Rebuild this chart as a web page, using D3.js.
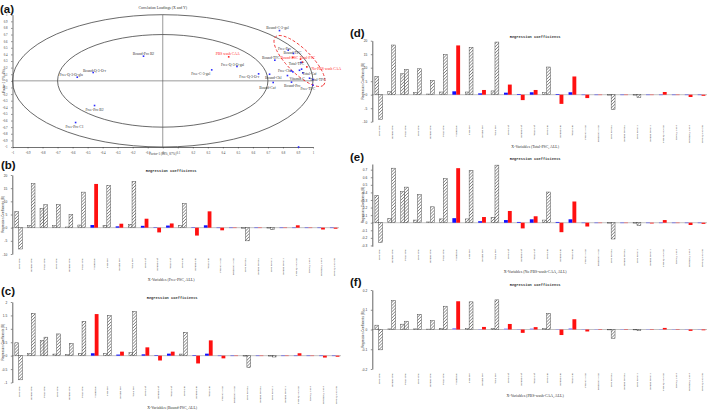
<!DOCTYPE html>
<html><head><meta charset="utf-8">
<script src="https://cdn.jsdelivr.net/npm/d3@7"></script>
<style>body{margin:0;background:#fff}</style>
</head><body>
<svg id="c" width="709" height="414"></svg>
<script>
// ---------------- DATA ----------------
const categories = ["Free TPC","Bound TPC","Total TPC","Free TFC","Bound TFC","Total TFC","Vitamin C","Free Pro","Bound Pro","Total Pro","Free Caf","Bound Caf","Total Caf","Free Chl","Bound Chl","Total Chl","Free C-3-gal","Bound C-3-gal","Free Pro B2","Bound Pro B2","Free Pro C1","Bound Pro C1","Free Q-3-O-gal","Free Q-3-O-r","Bound Q-3-O-r","Free Q-3-O-glu"];
// 1 = significant (blue / red bars), 0 = not significant (hatched bars)
const significant = [0,0,0,0,0,0,1,0,1,0,1,1,1,0,1,1,1,1,0,1,0,1,1,1,1,1];

const freePscLeft  = [6.2,0.9,7.3,0.8,0.25,1.0,1.0,0.9,0.5,1.3,0.7,0.15,0.8,0.8,0.15,0.9,-0.1,0,-0.2,0,-0.1,0,0,0,0,0];
const freePscRight = [-8.1,16.7,8.7,8.7,4.9,13.5,16.6,16.1,1.5,17.5,3.4,-1.8,1.6,9.2,-3.0,6.2,-1.0,-0.05,-5.0,-0.1,-0.8,-0.1,0.9,-0.05,-0.7,-0.4];

const boundPscLeft  = [0.48,0.075,0.56,0.06,0.04,0.075,0.09,0.075,0.04,0.11,0.05,0.02,0.075,0.06,0.02,0.075,0,0,-0.01,0,-0.01,0,0,0,0,0];
const boundPscRight = [-0.9,1.58,0.69,0.81,0.46,1.28,1.55,1.5,0.15,1.65,0.31,-0.18,0.15,0.87,-0.29,0.57,-0.1,-0.01,-0.45,-0.01,-0.05,-0.01,0.09,-0.005,-0.07,-0.04];

const totalPscLeft  = [6.75,1.1,7.75,0.75,0.25,1.0,1.25,1.0,0.5,1.4,0.75,0.25,0.9,0.75,0.25,0.9,0,0,-0.1,0,-0.1,0,0,0,0,0];
const totalPscRight = [-9.1,18.4,9.4,9.6,5.25,14.9,18.25,17.5,1.75,19.5,3.75,-2.0,1.75,10.25,-3.4,6.75,-1.25,-0.05,-5.5,-0.1,-1.0,-0.1,1.0,-0.05,-0.85,-0.4];

const noPbsLeft  = [0.36,0.057,0.41,0.035,0.01,0.05,0.06,0.05,0.02,0.07,0.035,0.01,0.045,0.035,0.01,0.045,0,0,-0.005,0,-0.005,0,0,0,0,0];
const noPbsRight = [-0.26,0.72,0.47,0.37,0.21,0.58,0.72,0.69,0.075,0.76,0.155,-0.075,0.085,0.405,-0.125,0.28,-0.05,-0.003,-0.215,-0.005,-0.04,-0.01,0.035,-0.005,-0.03,-0.015];

const pbsLeft  = [0.022,0.003,0.027,0.003,0.002,0.005,0.007,0.005,0.002,0.005,0.005,0.001,0.005,0.004,0.001,0.006,0,0,0,0,0,0,0,0,0,0];
const pbsRight = [-0.103,0.147,0.042,0.077,0.045,0.118,0.143,0.14,0.013,0.15,0.028,-0.017,0.012,0.082,-0.028,0.052,-0.01,-0.001,-0.045,-0.001,-0.006,-0.002,0.008,-0.001,-0.007,-0.004];

// Correlation loadings (panel a)
const loadingNames = ["Bound-Pro B2","Bound-Q-3-O-r","Free-Q-3-O-glu","Free-Pro B2","Free-Pro C1","Free-C-3-gal","PBS wash CAA","Free-Q-3-O-gal","Free-Q-3-O-r","Bound-Chl","Bound-Caf","Bound-C-3-gal","Bound-TFC","Free-Pro","Bound-TPC","Bound-PSC","Total-PSC","Free-PSC","Total-TFC","No-PBS wash CAA","Free-Chl","Total-Caf","Vitamin C","Total-TPC","Bound-Pro","Free-TPC","Free-Caf","Total-Chl","Total-Pro","Free-TFC","Bound-Pro C1"];
const loadingX = [-0.128,-0.463,-0.569,-0.454,-0.58,0.326,0.439,0.494,0.638,0.711,0.735,0.777,0.746,0.835,0.870,0.866,0.917,0.930,0.92,0.959,0.855,0.932,0.83,0.999,0.857,0.999,0.866,0.91,0.977,0.924,0.904];
const loadingY = [0.373,0.126,0.055,-0.373,-0.63,0.166,0.363,0.217,0.106,0.10,-0.025,0.76,0.312,0.464,0.414,0.353,0.328,0.283,0.278,0.211,0.151,0.121,0.08,0.02,-0.02,-0.065,0.136,0.16,0.04,0.177,-1.0];
const loadingIsY = [0,0,0,0,0,0,1,0,0,0,0,0,0,0,0,1,1,1,0,1,0,0,0,0,0,0,0,0,0,0,0];
const axisTicksA = d3.range(-10, 11).map(d => d / 10);

// ---------------- LAYOUT ----------------
const svg = d3.select("#c");
const defs = svg.append("defs");
const pat = defs.append("pattern").attr("id","hatch").attr("patternUnits","userSpaceOnUse")
  .attr("width",2.2).attr("height",2.2).attr("patternTransform","rotate(45)");
pat.append("rect").attr("width",2.2).attr("height",2.2).attr("fill","#fff");
pat.append("line").attr("x1",0).attr("y1",0).attr("x2",0).attr("y2",2.2).attr("stroke","#555").attr("stroke-width",1.1);

const serif = "'Liberation Serif', 'DejaVu Serif', serif";
const fmt = d => String(+d.toFixed(2));

function tag(t, x, y){
  svg.append("text").attr("x",x).attr("y",y).text(t)
    .attr("font-family","'Liberation Sans', Arial, sans-serif").attr("font-weight","bold").attr("font-size",11.5).attr("fill","#111");
}

// ---------- panel (a) ----------
(function(){
  const x = d3.scaleLinear().domain([-1,1]).range([12.5,313]);
  const y = d3.scaleLinear().domain([-1,1]).range([147,14.7]);
  const g = svg.append("g");
  tag("(a)", 0, 12.5);
  g.append("text").attr("x",x(0)).attr("y",8.5).attr("text-anchor","middle").attr("font-family",serif)
    .attr("font-size",3.8).attr("fill","#333").text("Correlation Loadings (X and Y)");
  const ax = g.append("g").attr("transform",`translate(0,${y(-1)})`)
    .call(d3.axisBottom(x).tickValues(axisTicksA).tickFormat(fmt).tickSize(1.5).tickSizeOuter(0));
  const ay = g.append("g").attr("transform",`translate(${x(-1)},0)`)
    .call(d3.axisLeft(y).tickValues(axisTicksA).tickFormat(fmt).tickSize(1.5).tickSizeOuter(0));
  [ax, ay].forEach(a => {
    a.selectAll("path").attr("stroke","#333").attr("stroke-width",0.7);
    a.selectAll("line").attr("stroke","#333").attr("stroke-width",0.5);
    a.selectAll("text").attr("font-size",3).attr("font-family",serif).attr("fill","#333");
  });
  ax.selectAll("text").attr("dy","0.9em");
  ay.selectAll("text").attr("dx","-0.2em");
  g.append("text").attr("x",x(0)).attr("y",154.5).attr("text-anchor","middle").attr("font-family",serif)
    .attr("font-size",3.2).attr("fill","#333").text("Factor-1 (88%, 87%)");
  g.append("text").attr("transform",`translate(4.5,${y(0)}) rotate(-90)`).attr("text-anchor","middle")
    .attr("font-family",serif).attr("font-size",3.2).attr("fill","#333").text("Factor-2 (1%, 6%)");
  g.append("line").attr("x1",x(0)).attr("x2",x(0)).attr("y1",y(1)).attr("y2",y(-1)).attr("stroke","#555").attr("stroke-width",0.6);
  g.append("line").attr("x1",x(-1)).attr("x2",x(1)).attr("y1",y(0)).attr("y2",y(0)).attr("stroke","#555").attr("stroke-width",0.6);
  [1, 0.7].forEach(r => {
    g.append("ellipse").attr("cx",x(0)).attr("cy",y(0))
      .attr("rx",x(r)-x(0)).attr("ry",y(0)-y(r))
      .attr("fill","none").attr("stroke","#444").attr("stroke-width",0.8);
  });
  const ecx = x(0.91), ecy = y(0.30);
  g.append("ellipse").attr("transform",`translate(${ecx},${ecy}) rotate(45)`)
    .attr("rx",34).attr("ry",12).attr("fill","none").attr("stroke","#f03030")
    .attr("stroke-width",0.9).attr("stroke-dasharray","3,2");
  const nudge = {
    "Bound-Pro B2":[0,-2.7],"Bound-Q-3-O-r":[1.3,-2],"Free-Q-3-O-glu":[-6,-2.3],"Free-Pro B2":[0,3.7],
    "Free-Pro C1":[-1,4.4],"Free-C-3-gal":[-11,3.6],"PBS wash CAA":[-1,-3.4],"Free-Q-3-O-gal":[-4.4,-1.3],
    "Free-Q-3-O-r":[-9.3,3.3],"Bound-Chl":[3.7,3],"Bound-Caf":[-5.7,4.7],"Bound-C-3-gal":[-2,-3.3],
    "Bound-TFC":[-4,-2.3],"Free-Pro":[-3.7,-1.7],"Bound-TPC":[-1,-1.2],"Bound-PSC":[-3.5,0.6],
    "Total-PSC":[7,-1.6],"Total-TFC":[-4.5,1.3],"No-PBS wash CAA":[19.5,2],
    "Free-Chl":[-6.7,-0.4],"Total-Caf":[6.7,0.6],"Vitamin C":[9.7,3.4],"Total-TPC":[5,-0.3],
    "Bound-Pro":[0.7,3.7],"Free-TPC":[-5,3.7]
  };
  const pts = loadingNames.map((n,i) => ({n, x:loadingX[i], y:loadingY[i], isY:loadingIsY[i]}));
  g.selectAll("rect.pt").data(pts).enter().append("rect").attr("class","pt")
    .attr("x",d => x(d.x)-0.8).attr("y",d => y(d.y)-0.8).attr("width",1.6).attr("height",1.6)
    .attr("fill",d => d.isY ? "#ff2020" : "#2a2aff");
  g.selectAll("text.lb").data(pts.filter(d => nudge[d.n])).enter().append("text").attr("class","lb")
    .attr("x",d => x(d.x)+nudge[d.n][0]).attr("y",d => y(d.y)+nudge[d.n][1]+1.3)
    .attr("text-anchor","middle").attr("font-family",serif).attr("font-size",3.7)
    .attr("fill",d => d.isY ? "#ff2020" : "#333").text(d => d.n);
})();

// ---------- bar panels ----------
function barPanel(cfg){
  const g = svg.append("g");
  tag(cfg.tag, cfg.tagX, cfg.tagY);
  const x = d3.scaleBand().domain(categories).range([cfg.x0, cfg.x1]).padding(0);
  const y = d3.scaleLinear().domain(cfg.domain).range([cfg.yBottom, cfg.yTop]);
  const w = x.bandwidth()*0.3;
  const cx = c => x(c) + x.bandwidth()/2;
  g.append("text").attr("x",(cfg.x0+cfg.x1)/2 - 5).attr("y",cfg.titleY).attr("text-anchor","middle")
    .attr("font-family","'Liberation Mono', 'DejaVu Sans Mono', monospace").attr("font-weight","bold")
    .attr("font-size",3.7).attr("fill","#333").text("Regression coefficients");
  g.append("line").attr("x1",cfg.x0).attr("x2",cfg.x1-1).attr("y1",y(0)).attr("y2",y(0))
    .attr("stroke","#999").attr("stroke-width",0.6);
  const data = categories.map((c,i) => ({c, l:cfg.left[i], r:cfg.right[i], s:significant[i]}));
  const bar = (val, xpos, color, s) => {
    const y0 = y(0), y1 = y(val);
    g.append("rect").attr("x",xpos).attr("width",w)
      .attr("y",Math.min(y0,y1)).attr("height",Math.max(Math.abs(y1-y0),0.4))
      .attr("fill", s ? color : "url(#hatch)")
      .attr("stroke", s ? "none" : "#444").attr("stroke-width", 0.45);
  };
  data.forEach(d => {
    bar(d.l, cx(d.c)-w, cfg.blue, d.s);
    bar(d.r, cx(d.c), "#ff1010", d.s);
  });
  const ay = g.append("g").attr("transform",`translate(${cfg.x0},0)`)
    .call(d3.axisLeft(y).tickValues(cfg.ticks).tickFormat(fmt).tickSize(1.5).tickSizeOuter(0));
  ay.selectAll("path").attr("stroke","#222").attr("stroke-width",0.7);
  ay.selectAll("line").attr("stroke","#222").attr("stroke-width",0.5);
  ay.selectAll("text").attr("font-size",3.2).attr("font-family","'Liberation Sans', Arial, sans-serif").attr("fill","#333").attr("dx","-0.2em");
  g.append("text").attr("transform",`translate(${cfg.x0-8.5},${(cfg.yTop+cfg.yBottom)/2}) rotate(-90)`)
    .attr("text-anchor","middle").attr("font-family","'Liberation Sans', Arial, sans-serif")
    .attr("font-size",3).attr("fill","#333").text("Regression Coefficients (B)");
  g.selectAll("text.cat").data(categories).enter().append("text").attr("class","cat")
    .attr("transform",c => `translate(${cx(c)},${cfg.labelY}) rotate(-90)`)
    .attr("text-anchor","end").attr("dy","0.35em").attr("font-family",serif).attr("font-size",2.9)
    .attr("fill","#333").text(c => c);
  g.append("text").attr("x",(cfg.x0+cfg.x1)/2 - 5).attr("y",cfg.xTitleY).attr("text-anchor","middle")
    .attr("font-family",serif).attr("font-size",3.9).attr("fill","#333").text(cfg.xTitle);
}

const panelCfgs = [
  {tag:"(b)",tagX:1,tagY:168.5,left:freePscLeft,right:freePscRight,domain:[-10,20],ticks:[-10,-5,0,5,10,15,20],
   x0:12.3,x1:340,yTop:175,yBottom:254,titleY:172,labelY:258,xTitleY:281,xTitle:"X-Variables (Free-PSC, ALL)",blue:"#1010ff"},
  {tag:"(c)",tagX:1,tagY:295,left:boundPscLeft,right:boundPscRight,domain:[-1,2],ticks:[-1,-0.5,0,0.5,1,1.5,2],
   x0:12.3,x1:342,yTop:302,yBottom:382.5,titleY:299,labelY:386,xTitleY:409,xTitle:"X-Variables (Bound-PSC, ALL)",blue:"#1010ff"},
  {tag:"(d)",tagX:350,tagY:37,left:totalPscLeft,right:totalPscRight,domain:[-10,20],ticks:[-10,-5,0,5,10,15,20],
   x0:372.3,x1:708,yTop:40.7,yBottom:121.7,titleY:38,labelY:125,xTitleY:148,xTitle:"X-Variables (Total-PSC, ALL)",blue:"#1010ff"},
  {tag:"(e)",tagX:350,tagY:161,left:noPbsLeft,right:noPbsRight,domain:[-0.31,0.775],ticks:d3.range(-3,8).map(d=>d/10),
   x0:372.3,x1:708,yTop:164,yBottom:246.2,titleY:160,labelY:249,xTitleY:272.5,xTitle:"X-Variables (No PBS-wash-CAA, ALL)",blue:"#1010ff"},
  {tag:"(f)",tagX:350,tagY:286,left:pbsLeft,right:pbsRight,domain:[-0.2,0.2],ticks:[-0.2,-0.1,0,0.1,0.2],
   x0:372.3,x1:708,yTop:290,yBottom:369,titleY:286,labelY:373,xTitleY:396.5,xTitle:"X-Variables (PBS-wash-CAA, ALL)",blue:"#8a8aff"}
];
panelCfgs.forEach(barPanel);
</script>
</body></html>
